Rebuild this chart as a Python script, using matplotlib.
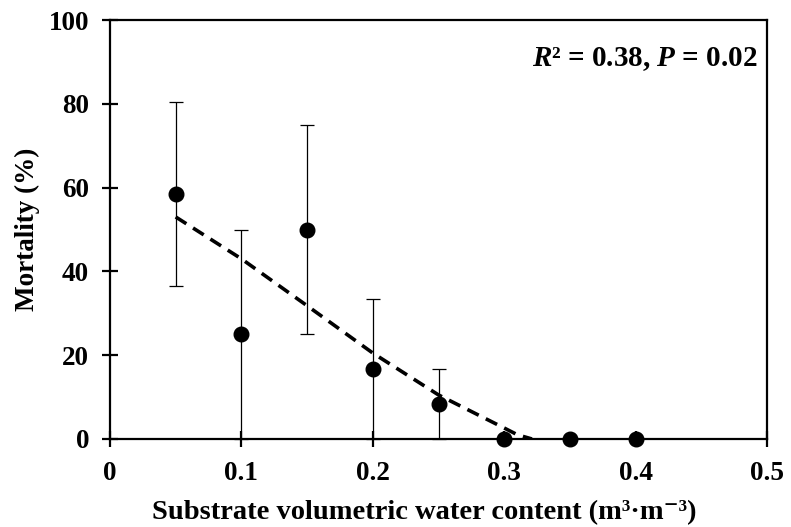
import matplotlib.pyplot as plt

plt.rcParams['font.family'] = ['Liberation Serif', 'DejaVu Serif']
plt.rcParams['font.weight'] = 'bold'
plt.rcParams['mathtext.fontset'] = 'custom'
plt.rcParams['mathtext.it'] = 'Liberation Serif:bold:italic'
plt.rcParams['mathtext.rm'] = 'Liberation Serif:bold'

# data
water = [0.05, 0.10, 0.15, 0.20, 0.25, 0.30, 0.35, 0.40]
mortality = [58.4, 25.0, 50.0, 16.7, 8.3, 0, 0, 0]
err = [22.0, 25.0, 25.0, 16.7, 8.3, 0, 0, 0]

# fitted trend (dashed)
fit_x = [0.05, 0.10, 0.15, 0.20, 0.25, 0.30, 0.31, 0.321]
fit_y = [53.0, 43.0, 31.8, 20.5, 10.5, 2.6, 1.0, 0.0]

fig = plt.figure(figsize=(7.91, 5.27), dpi=100)
ax = fig.add_axes([0.139, 0.167, 0.831, 0.795])

ax.plot(fit_x, fit_y, color='black', lw=2.6, ls=(0, (3.5, 2.2)), zorder=2)
ax.errorbar(water, mortality, yerr=err, fmt='o', color='black', ms=10.5,
            ecolor='black', elinewidth=0.9, capsize=5, capthick=0.9,
            clip_on=False, zorder=3)

ax.set_xlim(0, 0.5)
ax.set_ylim(0, 100)
ax.set_xticks([0, 0.1, 0.2, 0.3, 0.4, 0.5])
ax.set_xticklabels(['0', '0.1', '0.2', '0.3', '0.4', '0.5'])
ax.set_yticks([0, 20, 40, 60, 80, 100])
ax.tick_params(direction='inout', length=12, width=1.6, labelsize=19.5)
ax.tick_params(axis='x', pad=10)
ax.tick_params(axis='y', pad=9)
for s in ax.spines.values():
    s.set_linewidth(1.6)

ax.set_xlabel('Substrate volumetric water content (m³·m⁻³)', fontsize=20.5, fontweight='bold')
ax.xaxis.set_label_coords(0.478, -0.145)
ax.set_ylabel('Mortality (%)', fontsize=19.5, fontweight='bold', labelpad=6)

ax.text(0.985, 0.94, r'$R$² = 0.38, $P$ = 0.02', transform=ax.transAxes,
        ha='right', va='top', fontsize=21, fontweight='bold')

fig.savefig('out.png', dpi=100)
